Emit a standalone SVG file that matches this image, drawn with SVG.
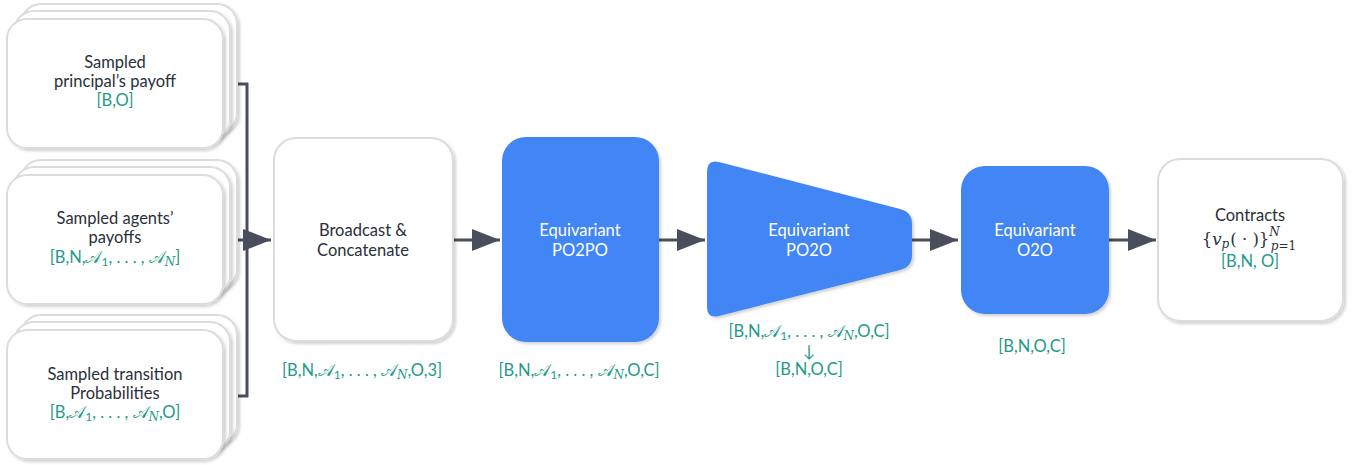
<svg xmlns="http://www.w3.org/2000/svg" width="1355" height="465" viewBox="0 0 1355 465">
<style>
.card{fill:#ffffff;stroke:#dcdcdf;stroke-width:2}
.blue{fill:#4285f4;stroke:none}
.t{font-family:Lato,"Open Sans",sans-serif;font-size:16.5px;fill:#2b2f3a;text-anchor:middle}
.w{font-family:Lato,"Open Sans",sans-serif;font-size:16.5px;fill:#ffffff;text-anchor:middle}
.l{font-family:Lato,"Open Sans",sans-serif;font-size:16.5px;fill:#1f9a88;text-anchor:middle}
.a{font-family:"DejaVu Sans","Noto Sans",sans-serif;font-size:17px}
.m{font-family:"DejaVu Serif","Liberation Serif",serif;font-style:italic}
.r{font-family:"DejaVu Serif","Liberation Serif",serif}
.s{font-size:12px}
.conn{fill:none;stroke:#4a4e5a;stroke-width:3}
</style>
<defs>
<marker id="ah" viewBox="0 0 28 22" refX="28" refY="11" markerWidth="28" markerHeight="22" markerUnits="userSpaceOnUse" orient="auto">
<path d="M0,0 L28,11 L0,22 Z" fill="#4a4e5a"/>
</marker>
<filter id="sh" x="-10%" y="-10%" width="130%" height="130%">
<feDropShadow dx="2" dy="2" stdDeviation="1.5" flood-color="#000" flood-opacity="0.18"/>
</filter>
</defs>

<g id="connectors">
<path class="conn" d="M223,84 H247 V396 H223"/>
<path class="conn" d="M223,240 H271" marker-end="url(#ah)"/>
<path class="conn" d="M453,240 H500" marker-end="url(#ah)"/>
<path class="conn" d="M659,240 H705" marker-end="url(#ah)"/>
<path class="conn" d="M912,240 H958" marker-end="url(#ah)"/>
<path class="conn" d="M1109,240 H1156" marker-end="url(#ah)"/>
</g>

<g id="principal-payoff">
<rect class="card" x="21" y="4" width="216" height="129" rx="20" filter="url(#sh)"/>
<rect class="card" x="14" y="11" width="216" height="129" rx="20" filter="url(#sh)"/>
<rect class="card" x="7" y="19" width="216" height="129" rx="20" filter="url(#sh)"/>
<text class="t" x="115" y="68">Sampled</text>
<text class="t" x="115" y="87">principal’s payoff</text>
<text class="l" x="115" y="106">[B,O]</text>
</g>

<g id="agents-payoffs">
<rect class="card" x="21" y="160" width="216" height="129" rx="20" filter="url(#sh)"/>
<rect class="card" x="14" y="167" width="216" height="129" rx="20" filter="url(#sh)"/>
<rect class="card" x="7" y="175" width="216" height="129" rx="20" filter="url(#sh)"/>
<text class="t" x="115" y="224">Sampled agents’</text>
<text class="t" x="115" y="243">payoffs</text>
<text class="l" x="115" y="263">[B,N,<tspan class="a">𝒜</tspan><tspan class="s" dy="3">1</tspan><tspan dy="-3">, . . . , </tspan><tspan class="a">𝒜</tspan><tspan class="m s" dy="3">N</tspan><tspan dy="-3">]</tspan></text>
</g>

<g id="transition-probabilities">
<rect class="card" x="21" y="315" width="216" height="129" rx="20" filter="url(#sh)"/>
<rect class="card" x="14" y="322" width="216" height="129" rx="20" filter="url(#sh)"/>
<rect class="card" x="7" y="330" width="216" height="129" rx="20" filter="url(#sh)"/>
<text class="t" x="115" y="380">Sampled transition</text>
<text class="t" x="115" y="399">Probabilities</text>
<text class="l" x="115" y="418">[B,<tspan class="a">𝒜</tspan><tspan class="s" dy="3">1</tspan><tspan dy="-3">, . . . , </tspan><tspan class="a">𝒜</tspan><tspan class="m s" dy="3">N</tspan><tspan dy="-3">,O]</tspan></text>
</g>

<g id="broadcast">
<rect class="card" x="274" y="138" width="179" height="203" rx="22" filter="url(#sh)"/>
<text class="t" x="363" y="236">Broadcast &amp;</text>
<text class="t" x="363" y="256">Concatenate</text>
<text class="l" x="362" y="376">[B,N,<tspan class="a">𝒜</tspan><tspan class="s" dy="3">1</tspan><tspan dy="-3">, . . . , </tspan><tspan class="a">𝒜</tspan><tspan class="m s" dy="3">N</tspan><tspan dy="-3">,O,3]</tspan></text>
</g>

<g id="po2po">
<rect class="blue" x="502" y="137" width="157" height="205" rx="24" filter="url(#sh)"/>
<text class="w" x="580" y="236">Equivariant</text>
<text class="w" x="580" y="256">PO2PO</text>
<text class="l" x="579" y="376">[B,N,<tspan class="a">𝒜</tspan><tspan class="s" dy="3">1</tspan><tspan dy="-3">, . . . , </tspan><tspan class="a">𝒜</tspan><tspan class="m s" dy="3">N</tspan><tspan dy="-3">,O,C]</tspan></text>
</g>

<g id="po2o">
<path class="blue" d="M719,162 L900,209 Q912,212 912,224 V255 Q912,267 900,270 L719,316 Q707,319 707,307 V172 Q707,159 719,162 Z" filter="url(#sh)"/>
<text class="w" x="809" y="236">Equivariant</text>
<text class="w" x="809" y="256">PO2O</text>
<text class="l" x="809" y="337">[B,N,<tspan class="a">𝒜</tspan><tspan class="s" dy="3">1</tspan><tspan dy="-3">, . . . , </tspan><tspan class="a">𝒜</tspan><tspan class="m s" dy="3">N</tspan><tspan dy="-3">,O,C]</tspan></text>
<text class="l" x="809" y="357">↓</text>
<text class="l" x="809" y="375">[B,N,O,C]</text>
</g>

<g id="o2o">
<rect class="blue" x="961" y="166" width="148" height="148" rx="24" filter="url(#sh)"/>
<text class="w" x="1035" y="236">Equivariant</text>
<text class="w" x="1035" y="256">O2O</text>
<text class="l" x="1032" y="352">[B,N,O,C]</text>
</g>

<g id="contracts">
<rect class="card" x="1158" y="159" width="185" height="162" rx="22" filter="url(#sh)"/>
<text class="t" x="1250" y="221">Contracts</text>
<text class="t" x="1249" y="245"><tspan class="r">{</tspan><tspan class="m">v</tspan><tspan class="m s" dy="3">p</tspan><tspan class="r" dy="-3" dx="1">( · )}</tspan><tspan class="m s" dy="-9">N</tspan><tspan class="m s" dx="-9" dy="14">p</tspan><tspan class="r s">=1</tspan></text>
<text class="l" x="1250" y="267">[B,N, O]</text>
</g>
</svg>
